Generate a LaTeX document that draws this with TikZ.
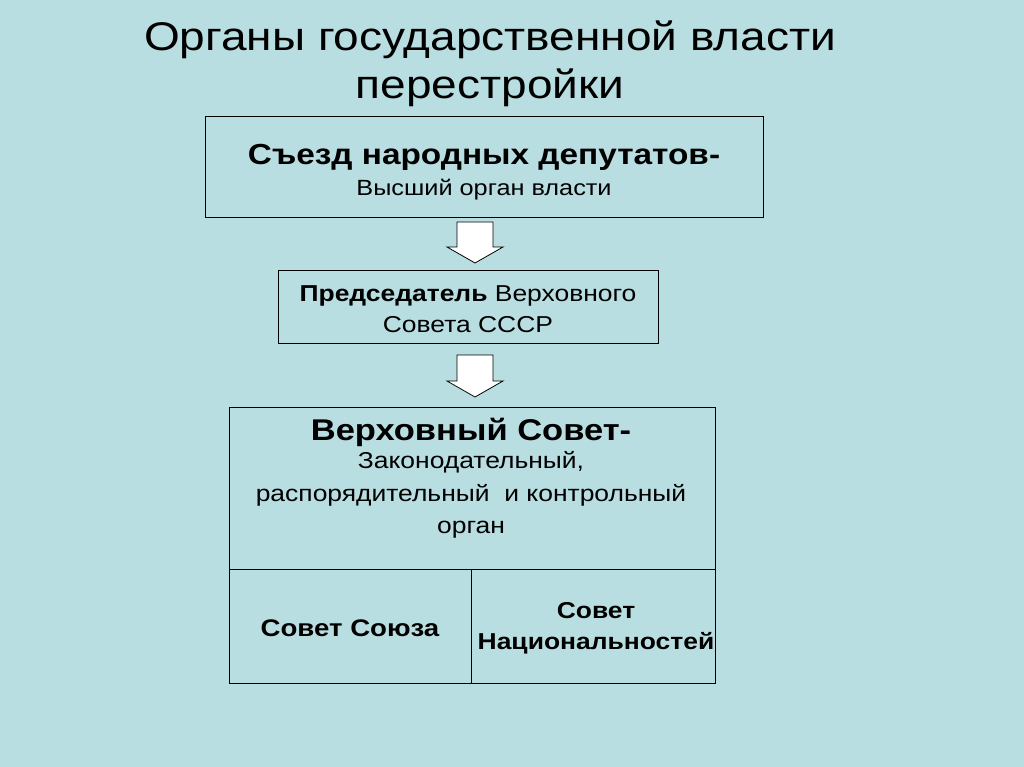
\documentclass[tikz,border=0pt]{standalone}
\usepackage{fontspec}
\setmainfont[FakeStretch=1.15]{Liberation Sans}
\definecolor{bg}{HTML}{B9DEE1}
\begin{document}
\begin{tikzpicture}[x=1pt,y=-1pt,
  box/.style={draw,line width=1pt},
  barrow/.style={draw,fill=white,line width=0.8pt},
  t/.style={inner sep=0pt,align=center}]
\fill[bg] (0,0) rectangle (1024,767);
\useasboundingbox (0,0) rectangle (1024,767);
\node[t,font=\fontsize{40}{48}\selectfont] (title) at (490,64) {Органы государственной власти\\перестройки};
\draw[box] (205,117) rectangle (763,218);
\node[t,font=\fontsize{29}{30}\selectfont\bfseries] (s1) at (484,157) {Съезд народных депутатов-};
\node[t,font=\fontsize{22}{26}\selectfont] (s1b) at (484,190) {Высший орган власти};
\draw[barrow] (457,222) -- (493,222) -- (493,247) -- (503,247) -- (475,263) -- (447,247) -- (457,247) -- cycle;
\draw[box] (278,270) rectangle (658,343);
\node[t,font=\fontsize{23}{31}\selectfont] (s2) at (468,309) {\textbf{Председатель} Верховного\\Совета СССР};
\draw[barrow] (457,355) -- (493,355) -- (493,381) -- (503,381) -- (475,397) -- (447,381) -- (457,381) -- cycle;
\draw[box] (229,407) rectangle (715,683);
\draw[line width=1pt] (229,569) -- (715,569);
\draw[line width=1pt] (471,569) -- (471,683);
\node[t,font=\fontsize{30}{34}\selectfont\bfseries] (s3) at (471,432) {Верховный Совет-};
\node[t,font=\fontsize{23}{32.5}\selectfont] (s3b) at (471,495) {Законодательный,\\распорядительный\ \ и контрольный\\орган};
\node[t,font=\fontsize{24}{26}\selectfont\bfseries] (su) at (350,628) {Совет Союза};
\node[t,font=\fontsize{23}{31}\selectfont\bfseries] (sn) at (596,628) {Совет\\Национальностей};
\end{tikzpicture}
\end{document}
